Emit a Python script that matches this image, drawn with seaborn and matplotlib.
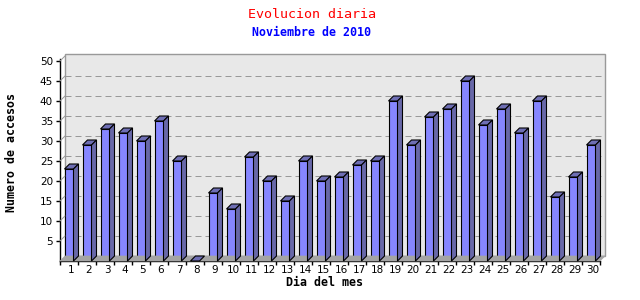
import matplotlib
matplotlib.use("Agg")
import matplotlib.pyplot as plt
import seaborn as sns
import numpy as np
from matplotlib.patches import Polygon, Rectangle
from matplotlib.transforms import ScaledTranslation

days = [str(d) for d in range(1, 31)]
visits = [23, 29, 33, 32, 30, 35, 25, 0, 17, 13, 26, 20, 15, 25, 20,
          21, 24, 25, 40, 29, 36, 38, 45, 34, 38, 32, 40, 16, 21, 29]
yticks = [5, 10, 15, 20, 25, 30, 35, 40, 45, 50]
title = "Evolucion diaria"
subtitle = "Noviembre de 2010"
xlabel = "Dia del mes"
ylabel = "Numero de accesos"

FRONT = "#8686ff"
SIDE = "#6868a8"
TOP = "#6e6eb4"
WALL = "#e8e8e8"
FLOOR = "#a4a4a4"
GRID = "#999999"
D = 5  # depth in pixels
PX = 0.72  # one pixel in points

sns.set_theme(style="white")
plt.rcParams["font.family"] = ["DejaVu Sans"]

fig = plt.figure(figsize=(6.4, 3.0), dpi=100)
W, H = 640, 300
ax = fig.add_axes([60 / W, 39 / H, 540 / W, 202 / H])
ax.patch.set_visible(False)

sns.barplot(x=days, y=visits, color=FRONT, width=0.5, edgecolor="black",
            linewidth=1.1 * PX, saturation=1, ax=ax, zorder=4)
ax.set_xlim(-0.5, 29.5)
ax.set_ylim(0, 50.5)

off = ScaledTranslation(D / 100, D / 100, fig.dpi_scale_trans)

# back wall
ax.add_patch(Rectangle((0, 0), 1, 1, transform=ax.transAxes + off,
                       facecolor=WALL, edgecolor=GRID, lw=1.4 * PX, zorder=0, clip_on=False))
# floor
fx0, fy0 = ax.transAxes.transform((0, 0))
fx1, fy1 = ax.transAxes.transform((1, 0))
floor = Polygon([(fx0, fy0), (fx1, fy1), (fx1 + D, fy1 + D), (fx0 + D, fy0 + D)],
                closed=True, transform=None, facecolor=FLOOR, edgecolor=FLOOR,
                lw=0.5, zorder=1)
fig.add_artist(floor)

# gridlines on back wall and connecting diagonals on left wall
for yv in yticks[:-1]:
    ax.hlines(yv, -0.5, 29.5, colors=GRID, linestyles=(0, (6, 4)), lw=PX,
              transform=ax.transData + off, zorder=1, clip_on=False)
for yv in yticks:
    px, py = ax.transData.transform((-0.5, yv))
    fig.add_artist(plt.Line2D([px, px + D], [py, py + D], transform=None,
                              color=GRID, lw=PX, zorder=1))

# 3D faces of bars
front_rgb = matplotlib.colors.to_rgb(FRONT)
for p in list(ax.patches):
    if not isinstance(p, Rectangle) or tuple(p.get_facecolor()[:3]) != front_rgb:
        continue
    x0, w, h = p.get_x(), p.get_width(), p.get_height()
    (ax0, ay0) = ax.transData.transform((x0, 0))
    (ax1, ay1) = ax.transData.transform((x0 + w, h))
    top = Polygon([(ax0, ay1), (ax1, ay1), (ax1 + D, ay1 + D), (ax0 + D, ay1 + D)],
                  closed=True, transform=None, facecolor=TOP, edgecolor="black",
                  lw=1.1 * PX, zorder=5)
    fig.add_artist(top)
    if h > 0:
        side = Polygon([(ax1, ay0), (ax1, ay1), (ax1 + D, ay1 + D), (ax1 + D, ay0 + D)],
                       closed=True, transform=None, facecolor=SIDE, edgecolor="black",
                       lw=1.1 * PX, zorder=5)
        fig.add_artist(side)

# axes styling
for s in ["top", "right"]:
    ax.spines[s].set_visible(False)
for s in ["left", "bottom"]:
    ax.spines[s].set_color("black")
    ax.spines[s].set_linewidth(1.4 * PX)
    ax.spines[s].set_zorder(6)

ax.set_yticks(yticks)
ax.set_yticklabels([str(v) for v in yticks])
ax.set_xticks(range(30))
ax.set_xticklabels(days)
ax.set_xticks(np.arange(-0.5, 30, 1), minor=True)
ax.tick_params(axis="y", which="major", length=3, width=1.4 * PX, color="black",
               labelsize=7.5, pad=2, left=True, labelcolor="black")
ax.tick_params(axis="x", which="major", length=0, labelsize=7.5, pad=3, labelcolor="black")
ax.tick_params(axis="x", which="minor", length=3, width=1.4 * PX, color="black", bottom=True)
for lab in ax.get_xticklabels():
    lab.set_transform(lab.get_transform() + ScaledTranslation(2 / 100, 0, fig.dpi_scale_trans))
ax.set_xlabel("")
ax.set_ylabel("")
ax.grid(False)

fig.text(312 / W, 1 - 14 / H, title, color="red", ha="center", va="center",
         family="DejaVu Sans Mono", fontsize=9.6)
fig.text(312 / W, 1 - 32 / H, subtitle, color="blue", ha="center", va="center",
         family="DejaVu Sans Mono", fontsize=8.4, fontweight="bold")
fig.text(324 / W, 1 - 282 / H, xlabel, color="black", ha="center", va="center",
         family="DejaVu Sans Mono", fontsize=8.4, fontweight="bold")
fig.text(12 / W, 1 - 152 / H, ylabel, color="black", ha="center", va="center",
         rotation=90, family="DejaVu Sans Mono", fontsize=8.4, fontweight="bold")

fig.savefig("out.png", dpi=100, facecolor="white")
